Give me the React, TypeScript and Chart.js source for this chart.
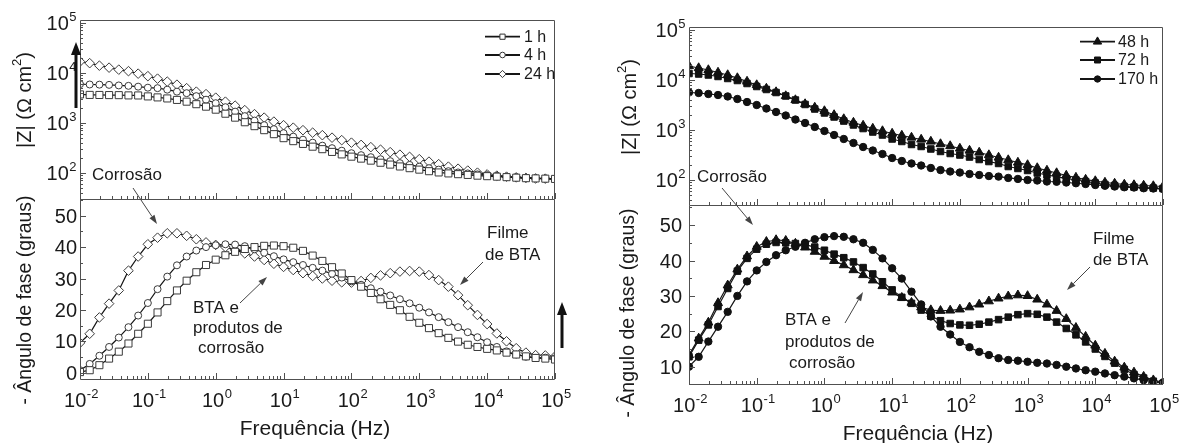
import React, { useEffect, useRef } from 'react';
import { Chart, registerables } from 'chart.js';

Chart.register(...registerables);

const W = 1184;
const H = 443;
const FONT = '"Liberation Sans", Arial, Helvetica, sans-serif';
const INK = '#1a1a1a';
const FRAME = '#505050';

// Frequencies (Hz), 7 points per decade
const FREQ = [
  0.01, 0.01389, 0.01931, 0.02683, 0.03728, 0.05179, 0.07197,
  0.1, 0.1389, 0.1931, 0.2683, 0.3728, 0.5179, 0.7197,
  1, 1.389, 1.931, 2.683, 3.728, 5.179, 7.197,
  10, 13.89, 19.31, 26.83, 37.28, 51.79, 71.97,
  100, 138.9, 193.1, 268.3, 372.8, 517.9, 719.7,
  1000, 1389, 1931, 2683, 3728, 5179, 7197,
  10000, 13890, 19310, 26830, 37280, 51790, 71970,
  100000,
];

// |Z| (Ohm cm2) – left panel
const Z_1H = [3670, 3590, 3580, 3560, 3550, 3510, 3500, 3350, 3200, 3050, 2850, 2630, 2340, 2090, 1820, 1510, 1260, 1020, 851, 708, 589, 490, 427, 376, 331, 295, 260, 232, 209, 191, 174, 158, 145, 133, 123, 115, 107, 101, 96.6, 93.3, 90.2, 87.1, 85.1, 83.2, 81.3, 79.4, 77.6, 76.7, 75.9, 75.0];
const Z_4H = [5890, 5800, 5760, 5700, 5550, 5450, 5250, 5010, 4900, 4570, 4170, 3890, 3390, 2880, 2450, 2040, 1660, 1350, 1100, 891, 741, 617, 525, 457, 398, 347, 309, 275, 245, 224, 204, 186, 170, 155, 143, 132, 123, 115, 107, 101, 96.6, 92.3, 89.1, 86.1, 83.2, 81.3, 79.4, 77.6, 75.9, 75.0];
const Z_24H = [16600, 15490, 13800, 12590, 11480, 10720, 9550, 8510, 7590, 6610, 5750, 4900, 4170, 3720, 3160, 2630, 2190, 1780, 1480, 1260, 1050, 891, 794, 708, 631, 562, 501, 447, 398, 359, 324, 288, 257, 229, 207, 186, 166, 148, 132, 120, 110, 100, 92.3, 87.1, 83.2, 80.4, 78.5, 76.7, 75.9, 75.0];

// -phase angle (degrees) – left panel
const PH_1H = [0.2, 0.8, 2.4, 4.5, 6.7, 9.3, 12.4, 15.6, 19.2, 22.8, 26.2, 29.3, 32.0, 34.3, 36.0, 37.4, 38.5, 39.4, 40.0, 40.4, 40.5, 40.3, 39.8, 38.8, 37.3, 35.6, 33.6, 31.6, 29.5, 27.4, 25.4, 23.4, 21.6, 19.9, 17.8, 15.9, 14.2, 12.6, 11.1, 9.9, 8.9, 8.2, 7.6, 7.1, 6.4, 5.8, 5.2, 4.7, 4.5, 4.2];
const PH_4H = [0.8, 2.8, 5.4, 8.2, 11.2, 14.5, 18.2, 22.2, 26.6, 30.6, 34.2, 37.0, 38.9, 40.0, 40.6, 40.9, 40.8, 40.3, 39.3, 38.2, 37.1, 36.1, 35.2, 34.3, 33.4, 32.5, 31.5, 30.3, 29.1, 28.0, 26.9, 25.8, 24.6, 23.4, 22.1, 20.7, 19.2, 17.7, 16.1, 14.5, 12.9, 11.3, 9.7, 8.2, 6.8, 5.8, 5.1, 4.7, 4.8, 4.6];
const PH_24H = [9.5, 12.4, 17.6, 22.0, 26.2, 32.5, 37.0, 40.9, 43.0, 44.4, 44.4, 43.6, 42.5, 41.5, 40.7, 40.0, 39.1, 38.0, 37.0, 35.9, 34.7, 33.7, 32.7, 31.7, 30.8, 30.0, 29.3, 28.8, 28.7, 29.2, 30.2, 31.0, 31.7, 32.2, 32.4, 32.2, 31.1, 29.5, 27.4, 24.7, 21.5, 18.4, 15.5, 12.5, 10.0, 7.8, 6.4, 5.6, 5.5, 5.2];

// |Z| (Ohm cm2) – right panel
const Z_48H = [19050, 17380, 15850, 14130, 12590, 10960, 9330, 7940, 6760, 5750, 4790, 3980, 3310, 2820, 2400, 2000, 1660, 1410, 1230, 1070, 955, 851, 776, 708, 646, 589, 525, 479, 427, 389, 355, 316, 282, 251, 224, 200, 174, 155, 138, 123, 112, 102, 95.5, 89.1, 85.1, 81.3, 79.4, 77.6, 75.9, 74.1];
const Z_72H = [13490, 13180, 12590, 11750, 10720, 9770, 8510, 7410, 6460, 5620, 4790, 3980, 3240, 2630, 2190, 1820, 1510, 1260, 1070, 912, 794, 661, 589, 513, 468, 417, 372, 339, 316, 288, 257, 234, 214, 186, 170, 155, 138, 126, 117, 107, 100, 93.3, 87.1, 81.3, 77.6, 74.1, 72.4, 70.8, 69.2, 67.6];
const Z_170H = [5620, 5500, 5250, 5010, 4680, 4170, 3630, 3160, 2690, 2290, 1950, 1620, 1380, 1150, 955, 794, 661, 550, 457, 389, 331, 275, 240, 214, 195, 174, 158, 148, 141, 132, 126, 120, 117, 110, 105, 100, 97.7, 93.3, 92.3, 89.1, 86.1, 83.2, 79.4, 76.7, 74.1, 71.6, 70.8, 68.4, 67.6, 66.1];

// -phase angle (degrees) – right panel
const PH_48H = [13.3, 18.0, 22.5, 28.0, 33.0, 37.5, 41.2, 43.9, 45.3, 45.8, 45.6, 44.8, 43.7, 42.5, 41.1, 39.9, 38.7, 37.3, 35.9, 34.4, 32.8, 31.0, 29.5, 28.1, 26.8, 26.0, 25.8, 25.9, 26.2, 26.8, 27.6, 28.5, 29.3, 29.9, 30.2, 30.0, 29.0, 27.6, 25.8, 23.5, 21.0, 18.5, 16.0, 13.7, 11.5, 9.8, 8.4, 7.2, 6.2, 5.6];
const PH_72H = [12.8, 17.5, 21.8, 27.0, 32.1, 37.0, 40.6, 43.2, 44.6, 45.1, 45.0, 44.8, 44.5, 43.8, 42.9, 41.8, 40.8, 39.6, 38.0, 36.2, 34.0, 31.7, 29.6, 27.9, 26.0, 24.3, 23.0, 22.2, 21.8, 21.7, 22.0, 22.6, 23.3, 24.0, 24.7, 25.0, 24.8, 24.0, 22.6, 20.8, 19.0, 17.0, 15.0, 12.9, 11.0, 9.2, 7.8, 6.8, 5.9, 5.3];
const PH_170H = [10.0, 12.8, 17.1, 21.3, 25.5, 30.0, 34.1, 37.2, 39.6, 41.5, 42.9, 43.9, 45.0, 46.0, 46.6, 46.9, 46.7, 46.0, 45.0, 43.0, 40.6, 37.8, 34.9, 31.2, 27.6, 24.2, 21.3, 19.1, 17.0, 15.5, 14.2, 13.3, 12.4, 11.9, 11.7, 11.4, 11.1, 10.9, 10.5, 10.0, 9.5, 9.0, 8.6, 8.1, 7.6, 7.2, 6.7, 6.2, 5.8, 5.5];

// Axis tick labels
const X_EXPONENTS = [-2, -1, 0, 1, 2, 3, 4, 5];
const Z_EXPONENTS = [2, 3, 4, 5];
const PHASE_TICKS_LEFT = [0, 10, 20, 30, 40, 50];
const PHASE_TICKS_RIGHT = [10, 20, 30, 40, 50];
const LEGEND_LEFT = ['1 h', '4 h', '24 h'];
const LEGEND_RIGHT = ['48 h', '72 h', '170 h'];

type Area = { l: number; t: number; r: number; b: number };

const AREAS: Record<string, Area> = {
  lz: { l: 80, t: 20, r: 555, b: 200 },
  lp: { l: 80, t: 200, r: 555, b: 380 },
  rz: { l: 689, t: 27, r: 1163, b: 206 },
  rp: { l: 689, t: 206, r: 1163, b: 385 },
};

const pts = (ys: number[]) => FREQ.map((f, i) => ({ x: f, y: ys[i] }));
const font = (s: number) => `${s}px ${FONT}`;

function ds(label: string, ys: number[], style: string, r: number, fill: string, stroke: string) {
  return {
    label,
    data: pts(ys),
    borderColor: '#151515',
    borderWidth: 1.2,
    pointStyle: style,
    pointRadius: r,
    pointBackgroundColor: fill,
    pointBorderColor: stroke,
    pointBorderWidth: 1,
    showLine: true,
    tension: 0,
    fill: false,
  };
}

function supText(ctx: any, base: string, exp: string, x: number, baseline: number, align: 'center' | 'right', size = 20) {
  const es = Math.round(size * 0.65);
  ctx.font = font(size);
  const wb = ctx.measureText(base).width;
  ctx.font = font(es);
  const we = ctx.measureText(exp).width;
  const total = wb + we;
  const x0 = align === 'center' ? x - total / 2 : x - total;
  ctx.textAlign = 'left';
  ctx.textBaseline = 'alphabetic';
  ctx.fillStyle = INK;
  ctx.font = font(size);
  ctx.fillText(base, x0, baseline);
  ctx.font = font(es);
  ctx.fillText(exp, x0 + wb + 0.5, baseline - size * 0.45);
}

function vTitle(ctx: any, parts: { t: string; sup?: boolean }[], cx: number, cy: number, size: number) {
  ctx.save();
  ctx.translate(cx, cy);
  ctx.rotate(-Math.PI / 2);
  ctx.fillStyle = INK;
  ctx.textBaseline = 'middle';
  ctx.textAlign = 'left';
  const ss = Math.round(size * 0.65);
  let total = 0;
  for (const p of parts) {
    ctx.font = font(p.sup ? ss : size);
    total += ctx.measureText(p.t).width;
  }
  let x = -total / 2;
  for (const p of parts) {
    ctx.font = font(p.sup ? ss : size);
    ctx.fillText(p.t, x, p.sup ? -size * 0.38 : 0);
    x += ctx.measureText(p.t).width;
  }
  ctx.restore();
}

function text(ctx: any, s: string, x: number, y: number, size = 17) {
  ctx.font = font(size);
  ctx.fillStyle = INK;
  ctx.textAlign = 'left';
  ctx.textBaseline = 'alphabetic';
  ctx.fillText(s, x, y);
}

function arrow(ctx: any, x1: number, y1: number, x2: number, y2: number, lw: number, hl: number, hw: number, color: string) {
  const ang = Math.atan2(y2 - y1, x2 - x1);
  const bx = x2 - hl * Math.cos(ang);
  const by = y2 - hl * Math.sin(ang);
  ctx.strokeStyle = color;
  ctx.lineWidth = lw;
  ctx.beginPath();
  ctx.moveTo(x1, y1);
  ctx.lineTo(bx, by);
  ctx.stroke();
  ctx.fillStyle = color;
  ctx.beginPath();
  ctx.moveTo(x2, y2);
  ctx.lineTo(bx + (hw / 2) * Math.sin(ang), by - (hw / 2) * Math.cos(ang));
  ctx.lineTo(bx - (hw / 2) * Math.sin(ang), by + (hw / 2) * Math.cos(ang));
  ctx.closePath();
  ctx.fill();
}

function marker(ctx: any, style: string, x: number, y: number, r: number, fill: string, stroke: string) {
  ctx.beginPath();
  if (style === 'rect') ctx.rect(x - r, y - r, 2 * r, 2 * r);
  else if (style === 'circle') ctx.arc(x, y, r, 0, Math.PI * 2);
  else if (style === 'rectRot') {
    ctx.moveTo(x - r, y);
    ctx.lineTo(x, y - r);
    ctx.lineTo(x + r, y);
    ctx.lineTo(x, y + r);
    ctx.closePath();
  } else {
    ctx.moveTo(x, y - r);
    ctx.lineTo(x + r * 0.866, y + r * 0.5);
    ctx.lineTo(x - r * 0.866, y + r * 0.5);
    ctx.closePath();
  }
  ctx.fillStyle = fill;
  ctx.fill();
  ctx.strokeStyle = stroke;
  ctx.lineWidth = 1;
  ctx.stroke();
}

function legend(ctx: any, labels: string[], styles: string[], radii: number[], rows: number[], x1: number, x2: number, tx: number, fill: string, stroke: string) {
  labels.forEach((lab, i) => {
    const y = rows[i];
    ctx.strokeStyle = '#151515';
    ctx.lineWidth = 1.8;
    ctx.beginPath();
    ctx.moveTo(x1, y);
    ctx.lineTo(x2, y);
    ctx.stroke();
    marker(ctx, styles[i], (x1 + x2) / 2, y, radii[i], fill, stroke);
    ctx.font = font(16);
    ctx.fillStyle = INK;
    ctx.textAlign = 'left';
    ctx.textBaseline = 'middle';
    ctx.fillText(lab, tx, y + 1);
  });
}

function xLogTicks(ctx: any, xs: any, yEdge: number) {
  ctx.beginPath();
  for (let k = -2; k <= 5; k++) {
    for (let m = 1; m <= 9; m++) {
      if (k === 5 && m > 1) break;
      const px = Math.round(xs.getPixelForValue(m * Math.pow(10, k))) + 0.5;
      const len = m === 1 ? 6 : 3;
      ctx.moveTo(px, yEdge);
      ctx.lineTo(px, yEdge - len);
    }
  }
  ctx.strokeStyle = FRAME;
  ctx.lineWidth = 1;
  ctx.stroke();
}

function yLogTicks(ctx: any, ys: any, xEdge: number) {
  ctx.beginPath();
  for (let k = 1; k <= 5; k++) {
    for (let m = 1; m <= 9; m++) {
      const v = m * Math.pow(10, k);
      if (v < ys.min || v > ys.max) continue;
      const py = Math.round(ys.getPixelForValue(v)) + 0.5;
      const len = m === 1 ? 6 : 3;
      ctx.moveTo(xEdge, py);
      ctx.lineTo(xEdge + len, py);
    }
  }
  ctx.strokeStyle = FRAME;
  ctx.lineWidth = 1;
  ctx.stroke();
}

function yLinTicks(ctx: any, ys: any, xEdge: number) {
  ctx.beginPath();
  for (let v = 0; v <= 55; v += 5) {
    if (v < ys.min || v > ys.max) continue;
    const py = Math.round(ys.getPixelForValue(v)) + 0.5;
    const len = v % 10 === 0 ? 6 : 3;
    ctx.moveTo(xEdge, py);
    ctx.lineTo(xEdge + len, py);
  }
  ctx.strokeStyle = FRAME;
  ctx.lineWidth = 1;
  ctx.stroke();
}

function frame(ctx: any, a: any, top: boolean) {
  ctx.strokeStyle = FRAME;
  ctx.lineWidth = 1;
  ctx.beginPath();
  const l = Math.round(a.left) + 0.5;
  const r = Math.round(a.right) - 0.5;
  const t = Math.round(a.top) + 0.5;
  const b = Math.round(a.bottom) - 0.5;
  if (top) {
    ctx.moveTo(l, t);
    ctx.lineTo(r, t);
  }
  ctx.moveTo(r, t - (top ? 0 : 1));
  ctx.lineTo(r, b);
  ctx.lineTo(l, b);
  ctx.lineTo(l, t - (top ? 0 : 1));
  ctx.stroke();
}

function decorZ(chart: any, side: 'L' | 'R') {
  const { ctx, chartArea: a, scales } = chart;
  ctx.save();
  xLogTicks(ctx, scales.x, a.bottom - 1);
  yLogTicks(ctx, scales.y, a.left);
  frame(ctx, a, true);
  for (const k of Z_EXPONENTS) {
    const py = scales.y.getPixelForValue(Math.pow(10, k));
    supText(ctx, '10', String(k), a.left - 4, py + 7, 'right', 20);
  }
  if (side === 'L') {
    vTitle(ctx, [{ t: '|Z| (Ω cm' }, { t: '2', sup: true }, { t: ')' }], 25, 100, 20);
    legend(ctx, LEGEND_LEFT, ['rect', 'circle', 'rectRot'], [2.6, 2.8, 3.6], [36.7, 55, 74], 485, 520, 524, '#ffffff', '#333333');
    text(ctx, 'Corrosão', 92, 180);
    arrow(ctx, 76, 108, 76, 42, 3, 13, 10, '#111111');
  } else {
    vTitle(ctx, [{ t: '|Z| (Ω cm' }, { t: '2', sup: true }, { t: ')' }], 630, 107, 20);
    legend(ctx, LEGEND_RIGHT, ['triangle', 'rect', 'circle'], [4.8, 3, 3.2], [41.7, 60, 79], 1080, 1115, 1118, '#111111', '#111111');
    text(ctx, 'Corrosão', 697, 182);
  }
  ctx.restore();
}

function decorP(chart: any, side: 'L' | 'R') {
  const { ctx, chartArea: a, scales } = chart;
  ctx.save();
  xLogTicks(ctx, scales.x, a.bottom - 1);
  yLinTicks(ctx, scales.y, a.left);
  frame(ctx, a, false);
  const ticks = side === 'L' ? PHASE_TICKS_LEFT : PHASE_TICKS_RIGHT;
  ctx.font = font(20);
  ctx.fillStyle = INK;
  ctx.textAlign = 'right';
  ctx.textBaseline = 'alphabetic';
  for (const v of ticks) {
    const py = scales.y.getPixelForValue(v);
    ctx.fillText(String(v), a.left - (side === 'L' ? 3 : 7), py + 7);
  }
  const xb = side === 'L' ? 406.5 : 412;
  for (const k of X_EXPONENTS) {
    const px = scales.x.getPixelForValue(Math.pow(10, k));
    supText(ctx, '10', String(k), px + 1, xb, 'center', 20);
  }
  ctx.font = font(21);
  ctx.fillStyle = INK;
  ctx.textAlign = 'center';
  ctx.textBaseline = 'alphabetic';
  if (side === 'L') {
    ctx.fillText('Frequência (Hz)', 315, 435);
    vTitle(ctx, [{ t: '- Ângulo de fase (graus)' }], 26, 300, 19.5);
    arrow(ctx, 133, 188, 157, 224, 1, 9, 6, '#444444');
    text(ctx, 'BTA e', 193, 313);
    text(ctx, 'produtos de', 193, 333);
    text(ctx, 'corrosão', 198, 353);
    arrow(ctx, 240, 303, 267, 277, 1, 9, 6, '#444444');
    text(ctx, 'Filme', 487, 238);
    text(ctx, 'de BTA', 485, 260);
    arrow(ctx, 483, 262, 460, 285, 1, 9, 6, '#444444');
    arrow(ctx, 562, 348, 562, 302, 3, 13, 10, '#111111');
  } else {
    ctx.fillText('Frequência (Hz)', 918, 440);
    vTitle(ctx, [{ t: '- Ângulo de fase (graus)' }], 629, 313, 19.5);
    arrow(ctx, 722, 188, 753, 225, 1, 9, 6, '#444444');
    text(ctx, 'BTA e', 785, 325);
    text(ctx, 'produtos de', 785, 347);
    text(ctx, 'corrosão', 789, 368);
    arrow(ctx, 845, 323, 863, 292, 1, 9, 6, '#444444');
    text(ctx, 'Filme', 1093, 244);
    text(ctx, 'de BTA', 1093, 265);
    arrow(ctx, 1090, 267, 1067, 290, 1, 9, 6, '#444444');
  }
  ctx.restore();
}

function makeChart(canvas: HTMLCanvasElement, area: Area, yScale: any, datasets: any[], decorate: (c: any) => void) {
  return new Chart(canvas, {
    type: 'line',
    data: { datasets },
    options: {
      responsive: false,
      animation: false,
      devicePixelRatio: 1,
      events: [],
      layout: { padding: { left: area.l, top: area.t, right: W - area.r, bottom: H - area.b } },
      plugins: { legend: { display: false }, tooltip: { enabled: false } },
      scales: {
        x: { type: 'logarithmic', min: 0.01, max: 100000, display: false, bounds: 'data' },
        y: { ...yScale, display: false, bounds: 'data' },
      },
    } as any,
    plugins: [{ id: 'decor', afterDraw: (c: any) => decorate(c) }],
  });
}

export default function App() {
  const r0 = useRef<HTMLCanvasElement>(null);
  const r1 = useRef<HTMLCanvasElement>(null);
  const r2 = useRef<HTMLCanvasElement>(null);
  const r3 = useRef<HTMLCanvasElement>(null);

  useEffect(() => {
    const LF = '#ffffff';
    const LS = '#3a3a3a';
    const RF = '#111111';
    const charts = [
      makeChart(
        r0.current!, AREAS.lz,
        { type: 'logarithmic', min: 28.4, max: 113000 },
        [
          ds('1 h', Z_1H, 'rect', 5, LF, LS),
          ds('4 h', Z_4H, 'circle', 3.5, LF, LS),
          ds('24 h', Z_24H, 'rectRot', 4.8, LF, LS),
        ],
        (c) => decorZ(c, 'L'),
      ),
      makeChart(
        r1.current!, AREAS.lp,
        { type: 'linear', min: -2.32, max: 55 },
        [
          ds('1 h', PH_1H, 'rect', 5, LF, LS),
          ds('4 h', PH_4H, 'circle', 3.5, LF, LS),
          ds('24 h', PH_24H, 'rectRot', 4.8, LF, LS),
        ],
        (c) => decorP(c, 'L'),
      ),
      makeChart(
        r2.current!, AREAS.rz,
        { type: 'logarithmic', min: 30.2, max: 114800 },
        [
          ds('48 h', Z_48H, 'triangle', 5.2, RF, RF),
          ds('72 h', Z_72H, 'rect', 4.6, RF, RF),
          ds('170 h', Z_170H, 'circle', 3.7, RF, RF),
        ],
        (c) => decorZ(c, 'R'),
      ),
      makeChart(
        r3.current!, AREAS.rp,
        { type: 'linear', min: 4.83, max: 55.4 },
        [
          ds('48 h', PH_48H, 'triangle', 5.2, RF, RF),
          ds('72 h', PH_72H, 'rect', 4.6, RF, RF),
          ds('170 h', PH_170H, 'circle', 3.7, RF, RF),
        ],
        (c) => decorP(c, 'R'),
      ),
    ];
    return () => charts.forEach((c) => c.destroy());
  }, []);

  const cs: React.CSSProperties = { position: 'absolute', left: 0, top: 0 };
  return (
    <div style={{ position: 'fixed', left: 0, top: 0, width: W, height: H, background: '#ffffff', overflow: 'hidden' }}>
      <canvas ref={r0} width={W} height={H} style={cs} />
      <canvas ref={r1} width={W} height={H} style={cs} />
      <canvas ref={r2} width={W} height={H} style={cs} />
      <canvas ref={r3} width={W} height={H} style={cs} />
    </div>
  );
}
